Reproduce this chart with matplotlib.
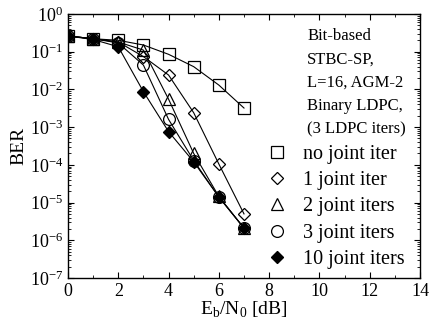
import matplotlib
matplotlib.use("Agg")
import matplotlib.pyplot as plt
from matplotlib.ticker import LogLocator, MultipleLocator, NullFormatter

plt.rcParams['font.family'] = ['Liberation Serif', 'DejaVu Serif']
plt.rcParams['mathtext.fontset'] = 'custom'
plt.rcParams['mathtext.rm'] = 'Liberation Serif'

ebn0 = [0, 1, 2, 3, 4, 5, 6, 7]
ber_no_joint = [0.26, 0.22, 0.2, 0.15, 0.085, 0.04, 0.013, 0.0032]
ber_1_joint = [0.26, 0.22, 0.18, 0.074, 0.024, 0.0024, 1.05e-4, 5.0e-6]
ber_2_joint = [0.26, 0.22, 0.18, 0.11, 0.0055, 2.0e-4, 1.45e-5, 2.1e-6]
ber_3_joint = [0.26, 0.22, 0.17, 0.044, 0.0016, 1.3e-4, 1.4e-5, 2.1e-6]
ber_10_joint = [0.26, 0.21, 0.135, 0.0087, 7.6e-4, 1.2e-4, 1.4e-5, 2.1e-6]

labels = ['no joint iter', '1 joint iter', '2 joint iters', '3 joint iters', '10 joint iters']
series = [ber_no_joint, ber_1_joint, ber_2_joint, ber_3_joint, ber_10_joint]
markers = ['s', 'D', '^', 'o', 'D']
sizes = [8, 7, 8.5, 8.5, 7]
filled = [False, False, False, False, True]

fig = plt.figure(figsize=(4.33, 3.24), dpi=100)
ax = fig.add_axes([0.157, 0.142, 0.813, 0.815])

handles = []
for y, m, s, f, lab in zip(series, markers, sizes, filled, labels):
    ax.plot(ebn0, y, '-', color='black', lw=0.8, zorder=2)
    h, = ax.plot(ebn0, y, linestyle='none', marker=m, markersize=s,
                 markerfacecolor='black' if f else 'none', markeredgecolor='black',
                 markeredgewidth=0.9, zorder=3, label=lab)
    if m == 'D':
        h.set_marker((4, 0, 0))
        h.set_markersize(s * 1.25)
    handles.append(h)

ax.set_yscale('log')
ax.set_xlim(0, 14)
ax.set_ylim(1e-7, 1)
ax.xaxis.set_major_locator(MultipleLocator(2))
ax.xaxis.set_minor_locator(MultipleLocator(1))
ax.yaxis.set_major_locator(LogLocator(base=10, numticks=10))
ax.yaxis.set_minor_locator(LogLocator(base=10, subs=range(2, 10), numticks=20))
ax.yaxis.set_minor_formatter(NullFormatter())
ax.tick_params(which='both', direction='in', top=True, right=True, labelsize=13)
ax.tick_params(which='major', length=4, width=0.8)
ax.tick_params(which='minor', length=2, width=0.6)
for sp in ax.spines.values():
    sp.set_linewidth(1.0)

ax.set_xlabel(r'E$_\mathrm{b}$/N$_0$ [dB]', fontsize=14, labelpad=0)
ax.set_ylabel('BER', fontsize=14, labelpad=2)

ax.text(0.68, 0.945, 'Bit-based\nSTBC-SP,\nL=16, AGM-2\nBinary LDPC,\n(3 LDPC iters)',
        transform=ax.transAxes, ha='left', va='top', fontsize=12, linespacing=1.6)

leg = ax.legend(handles=handles, loc='lower right', bbox_to_anchor=(0.99, -0.012),
                frameon=False, fontsize=14.5, handlelength=1.0, handletextpad=0.8,
                labelspacing=0.36, borderaxespad=0.2)

fig.savefig('out.png', dpi=100)
